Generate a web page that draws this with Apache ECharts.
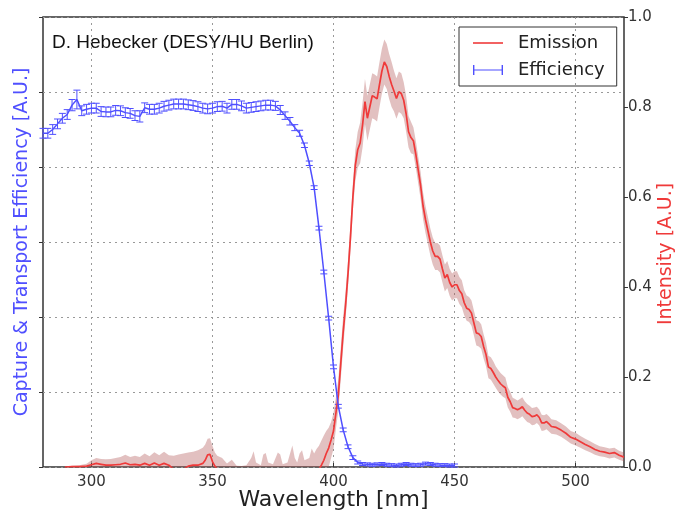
<!DOCTYPE html>
<html>
<head>
<meta charset="utf-8">
<script src="https://cdn.jsdelivr.net/npm/echarts@6/dist/echarts.min.js"></script>
<style>
  html, body { margin: 0; padding: 0; background: #fff; }
  #chart { width: 677px; height: 516px; }
</style>
</head>
<body>
<div id="chart"></div>
<script>
// capture & transport efficiency (left axis), 2 nm steps
var effWl = [280, 282, 284, 286, 288, 290, 292, 294, 296, 298,
    300, 302, 304, 306, 308, 310, 312, 314, 316, 318,
    320, 322, 324, 326, 328, 330, 332, 334, 336, 338,
    340, 342, 344, 346, 348, 350, 352, 354, 356, 358,
    360, 362, 364, 366, 368, 370, 372, 374, 376, 378,
    380, 382, 384, 386, 388, 390, 392, 394, 396, 398,
    400, 402, 404, 406, 408, 410, 412, 414, 416, 418,
    420, 422, 424, 426, 428, 430, 432, 434, 436, 438,
    440, 442, 444, 446, 448, 450];
var effVal = [0.890, 0.890, 0.900, 0.915, 0.930, 0.940, 0.965, 0.980, 0.950, 0.954,
    0.957, 0.957, 0.948, 0.947, 0.947, 0.951, 0.950, 0.945, 0.943, 0.937,
    0.935, 0.958, 0.954, 0.954, 0.957, 0.962, 0.965, 0.968, 0.968, 0.968,
    0.966, 0.964, 0.961, 0.957, 0.955, 0.957, 0.961, 0.962, 0.957, 0.967,
    0.967, 0.963, 0.957, 0.959, 0.961, 0.963, 0.965, 0.965, 0.963, 0.952,
    0.937, 0.922, 0.905, 0.890, 0.858, 0.810, 0.745, 0.637, 0.520, 0.397,
    0.267, 0.162, 0.099, 0.054, 0.025, 0.012, 0.008, 0.007, 0.006, 0.007,
    0.008, 0.006, 0.005, 0.004, 0.006, 0.008, 0.006, 0.005, 0.006, 0.009,
    0.008, 0.006, 0.005, 0.005, 0.004, 0.004];
var effErr = [0.013, 0.013, 0.013, 0.013, 0.013, 0.013, 0.015, 0.025, 0.013, 0.013,
    0.013, 0.013, 0.013, 0.013, 0.013, 0.013, 0.013, 0.013, 0.013, 0.013,
    0.015, 0.013, 0.013, 0.013, 0.013, 0.013, 0.013, 0.013, 0.013, 0.013,
    0.013, 0.013, 0.013, 0.013, 0.013, 0.013, 0.013, 0.013, 0.013, 0.013,
    0.013, 0.013, 0.013, 0.013, 0.013, 0.013, 0.013, 0.013, 0.012, 0.012,
    0.010, 0.010, 0.008, 0.008, 0.006, 0.006, 0.005, 0.005, 0.005, 0.005,
    0.005, 0.005, 0.005, 0.005, 0.005, 0.004, 0.004, 0.004, 0.004, 0.004,
    0.004, 0.004, 0.004, 0.004, 0.004, 0.004, 0.004, 0.004, 0.004, 0.004,
    0.004, 0.004, 0.004, 0.004, 0.004, 0.004];

// emission spectrum (right axis) with its uncertainty band
var emWl = [289, 292, 295, 298, 300, 302, 304, 306, 308, 310, 312, 314, 316, 318, 320,
    322, 324, 326, 328, 330, 332, 334, 336, 338, 340, 342, 344, 346, 347, 348,
    349, 350, 351, 352, 354, 356, 358, 360, 362, 364, 366, 367, 368, 370, 371,
    372, 373, 375, 377, 378, 379, 381, 383, 384, 385, 386, 387, 388, 390, 391,
    392, 393, 394, 395, 396, 397, 398, 399, 400, 401, 402, 403, 404, 405, 406,
    407, 408, 409, 410, 411, 412, 413, 414, 415, 416, 417, 418, 419, 420, 421,
    422, 423, 424, 425, 426, 427, 428, 429, 430, 431, 432, 433, 434, 435, 436,
    437, 438, 439, 440, 441, 442, 443, 444, 445, 446, 447, 448, 449, 450, 451,
    452, 453, 454, 455, 456, 457, 458, 459, 460, 461, 462, 463, 464, 465, 466,
    467, 468, 469, 470, 471, 472, 473, 474, 475, 476, 477, 478, 479, 480, 481,
    482, 483, 484, 485, 486, 487, 488, 489, 490, 492, 494, 496, 498, 500, 502,
    504, 506, 508, 510, 512, 514, 516, 518, 520];
var emVal = [0.000, 0.001, 0.001, 0.002, 0.005, 0.008, 0.006, 0.004, 0.004, 0.005, 0.006, 0.009, 0.005, 0.006, 0.004,
    0.008, 0.004, 0.009, 0.004, 0.008, 0.004, -0.005, -0.005, -0.005, 0.002, 0.004, 0.004, 0.008, 0.015, 0.027,
    0.028, 0.012, 0.002, -0.005, -0.005, -0.005, -0.005, -0.005, -0.005, -0.005, -0.005, -0.005, -0.005, -0.005, -0.005,
    -0.005, -0.005, -0.005, -0.005, -0.005, -0.005, -0.005, -0.005, -0.005, -0.005, -0.005, -0.005, -0.005, -0.005, -0.005,
    -0.005, -0.005, -0.005, 0.004, 0.015, 0.030, 0.042, 0.060, 0.080, 0.120, 0.160, 0.230, 0.300, 0.360, 0.430,
    0.510, 0.600, 0.670, 0.705, 0.720, 0.760, 0.812, 0.775, 0.800, 0.825, 0.822, 0.818, 0.850, 0.880, 0.900,
    0.890, 0.868, 0.850, 0.835, 0.819, 0.834, 0.830, 0.815, 0.785, 0.745, 0.732, 0.725, 0.695, 0.660, 0.625,
    0.580, 0.550, 0.525, 0.500, 0.480, 0.468, 0.468, 0.462, 0.440, 0.420, 0.428, 0.410, 0.400, 0.405, 0.405,
    0.392, 0.385, 0.365, 0.353, 0.350, 0.342, 0.320, 0.298, 0.296, 0.290, 0.268, 0.250, 0.222, 0.219, 0.210,
    0.200, 0.192, 0.185, 0.180, 0.176, 0.155, 0.145, 0.132, 0.130, 0.127, 0.130, 0.134, 0.126, 0.120, 0.117,
    0.112, 0.113, 0.116, 0.110, 0.098, 0.098, 0.101, 0.096, 0.090, 0.088, 0.082, 0.075, 0.066, 0.062, 0.056,
    0.050, 0.045, 0.039, 0.035, 0.033, 0.030, 0.032, 0.026, 0.022];
var emErr = [0.000, 0.002, 0.003, 0.005, 0.010, 0.012, 0.012, 0.013, 0.014, 0.015, 0.016, 0.018, 0.017, 0.019, 0.018,
    0.022, 0.020, 0.024, 0.022, 0.026, 0.022, 0.030, 0.033, 0.035, 0.030, 0.030, 0.033, 0.035, 0.035, 0.036,
    0.036, 0.035, 0.030, 0.030, 0.025, 0.013, 0.021, 0.008, 0.007, 0.009, 0.025, 0.040, 0.015, 0.009, 0.033,
    0.036, 0.015, 0.011, 0.037, 0.033, 0.011, 0.015, 0.053, 0.025, 0.015, 0.035, 0.042, 0.020, 0.025, 0.046,
    0.035, 0.045, 0.052, 0.055, 0.055, 0.050, 0.045, 0.040, 0.040, 0.035, 0.035, 0.035, 0.035, 0.030, 0.030,
    0.030, 0.030, 0.035, 0.040, 0.045, 0.050, 0.050, 0.050, 0.050, 0.050, 0.050, 0.050, 0.050, 0.050, 0.050,
    0.050, 0.050, 0.050, 0.045, 0.045, 0.045, 0.045, 0.040, 0.040, 0.035, 0.035, 0.030, 0.030, 0.030, 0.030,
    0.030, 0.030, 0.030, 0.030, 0.030, 0.030, 0.030, 0.030, 0.030, 0.030, 0.030, 0.030, 0.030, 0.030, 0.030,
    0.030, 0.030, 0.028, 0.028, 0.028, 0.028, 0.028, 0.028, 0.028, 0.027, 0.027, 0.026, 0.025, 0.025, 0.025,
    0.024, 0.024, 0.024, 0.024, 0.023, 0.023, 0.022, 0.022, 0.021, 0.021, 0.021, 0.021, 0.020, 0.020, 0.019,
    0.019, 0.019, 0.018, 0.018, 0.018, 0.017, 0.017, 0.017, 0.016, 0.016, 0.015, 0.015, 0.014, 0.014, 0.013,
    0.013, 0.012, 0.012, 0.011, 0.011, 0.011, 0.011, 0.010, 0.010];

var xTicks = [300, 350, 400, 450, 500];

var blue = '#4f4fff';
var red = '#ef3a3a';
var font = 'DejaVu Sans';

var effLine = [], effBars = [];
for (var i = 0; i < effWl.length; i++) {
    effLine.push([effWl[i], effVal[i]]);
    effBars.push([effWl[i], effVal[i], effErr[i]]);
}
var emLine = [], band = [];
for (var j = 0; j < emWl.length; j++) {
    var lo = Math.max(0, emVal[j] - emErr[j]);
    var hi = Math.max(lo, emVal[j] + emErr[j]);
    emLine.push([emWl[j], emVal[j]]);
    band.push([emWl[j], lo, hi]);
}

var myChart = echarts.init(document.getElementById('chart'));

var option = {
    animation: false,
    backgroundColor: '#fff',
    grid: { left: 43, right: 53, top: 17, bottom: 49, outerBoundsMode: 'none', containLabel: false,
        show: true, borderColor: '#333', borderWidth: 1.5 },
    legend: {
        left: 459, top: 27, orient: 'vertical',
        borderColor: '#333', borderWidth: 1, borderRadius: 0,
        padding: [7, 12, 7, 14], itemGap: 9,
        itemWidth: 30, itemHeight: 10, symbolKeepAspect: true,
        textStyle: { fontFamily: font, fontSize: 18, color: '#222', padding: [0, 0, 0, 10] },
        data: [
            { name: 'Emission', icon: 'path://M0,0h30v1.6h-30z', itemStyle: { color: red } },
            { name: 'Efficiency', icon: 'path://M0,0h1.4v4.4h27.2v-4.4h1.4v10h-1.4v-4.4h-27.2v4.4h-1.4z' }
        ]
    },
    graphic: [{
        type: 'text', left: 52, top: 33,
        style: { text: 'D. Hebecker (DESY/HU Berlin)', fontFamily: 'Liberation Sans', fontSize: 19, fill: '#111' }
    }],
    xAxis: {
        type: 'value', min: 280, max: 520,
        name: 'Wavelength [nm]', nameLocation: 'middle', nameGap: 22, nameMoveOverlap: false,
        nameTextStyle: { fontFamily: font, fontSize: 22, color: '#222' },
        axisLine: { show: false },
        axisTick: { show: true, inside: true, length: 4, customValues: xTicks, lineStyle: { color: '#333' } },
        axisLabel: { customValues: xTicks, fontFamily: font, fontSize: 15, color: '#333', margin: 8 },
        splitLine: { show: true, lineStyle: { color: '#999', type: [2, 4], width: 1 } }
    },
    yAxis: [{
        type: 'value', min: 0, max: 1.2, interval: 0.2, position: 'left',
        name: 'Capture & Transport Efficiency [A.U.]', nameLocation: 'middle', nameGap: 11, nameMoveOverlap: false,
        nameTextStyle: { fontFamily: font, fontSize: 19, color: blue },
        axisLine: { show: false },
        axisTick: { show: true, length: 4, lineStyle: { color: '#333' } },
        axisLabel: { show: false },
        splitLine: { show: true, lineStyle: { color: '#999', type: [2, 4], width: 1 } }
    }, {
        type: 'value', min: 0, max: 1, interval: 0.2, position: 'right',
        name: 'Intensity [A.U.]', nameLocation: 'middle', nameGap: 33, nameRotate: 90, nameMoveOverlap: false,
        nameTextStyle: { fontFamily: font, fontSize: 19, color: red, padding: [0, 24, 0, 0] },
        axisLine: { show: false },
        axisTick: { show: true, length: 4, lineStyle: { color: '#333' } },
        axisLabel: { fontFamily: font, fontSize: 15, color: '#333', margin: 4,
            formatter: function (v) { return v.toFixed(1); } },
        splitLine: { show: false }
    }],
    series: [{
        name: 'band', type: 'custom', yAxisIndex: 1, silent: true,
        data: band,
        renderItem: function (params, api) {
            if (params.dataIndex !== 0) return null;
            var pts = [];
            for (var k = 0; k < band.length; k++) pts.push(api.coord([band[k][0], band[k][2]]));
            for (var m = band.length - 1; m >= 0; m--) pts.push(api.coord([band[m][0], band[m][1]]));
            return {
                type: 'polygon', shape: { points: pts },
                style: { fill: 'rgba(175, 80, 80, 0.36)', stroke: null }
            };
        }
    }, {
        name: 'Emission', type: 'line', yAxisIndex: 1,
        data: emLine, symbol: 'none', color: red,
        lineStyle: { color: red, width: 1.7 }
    }, {
        name: 'Efficiency', type: 'line', yAxisIndex: 0,
        data: effLine, symbol: 'none', color: blue,
        lineStyle: { color: blue, width: 1.5 }
    }, {
        name: 'Efficiency', type: 'custom', yAxisIndex: 0, color: blue,
        data: effBars,
        renderItem: function (params, api) {
            var x = api.value(0), y = api.value(1), e = api.value(2);
            var top = api.coord([x, y + e]);
            var bot = api.coord([x, y - e]);
            var hw = 3.5;
            var st = { stroke: blue, lineWidth: 1 };
            return {
                type: 'group',
                children: [
                    { type: 'line', shape: { x1: top[0], y1: top[1], x2: bot[0], y2: bot[1] }, style: st },
                    { type: 'line', shape: { x1: top[0] - hw, y1: top[1], x2: top[0] + hw, y2: top[1] }, style: st },
                    { type: 'line', shape: { x1: bot[0] - hw, y1: bot[1], x2: bot[0] + hw, y2: bot[1] }, style: st }
                ]
            };
        }
    }]
};

myChart.setOption(option);
</script>
</body>
</html>
